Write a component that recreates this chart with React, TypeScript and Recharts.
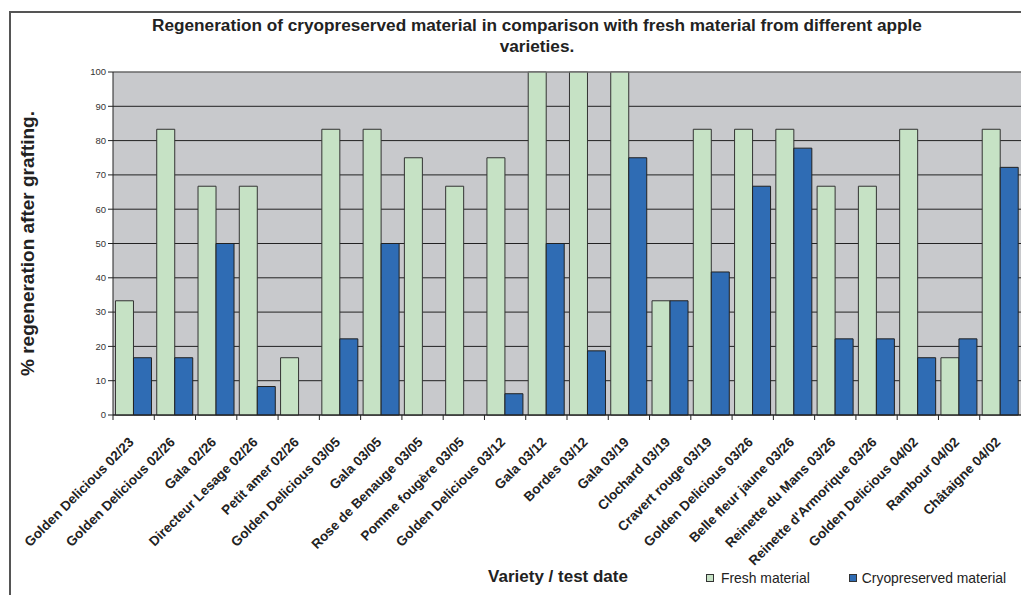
import React from "react";
import { BarChart, Bar, XAxis, YAxis, CartesianGrid, ReferenceLine } from "recharts";

const categories = [
  "Golden Delicious 02/23",
  "Golden Delicious 02/26",
  "Gala 02/26",
  "Directeur Lesage 02/26",
  "Petit amer 02/26",
  "Golden Delicious 03/05",
  "Gala 03/05",
  "Rose de Benauge 03/05",
  "Pomme fougère 03/05",
  "Golden Delicious 03/12",
  "Gala 03/12",
  "Bordes 03/12",
  "Gala 03/19",
  "Clochard 03/19",
  "Cravert rouge 03/19",
  "Golden Delicious 03/26",
  "Belle fleur jaune 03/26",
  "Reinette du Mans 03/26",
  "Reinette d'Armorique 03/26",
  "Golden Delicious 04/02",
  "Rambour 04/02",
  "Châtaigne 04/02",
];

const fresh = [33.3, 83.3, 66.7, 66.7, 16.7, 83.3, 83.3, 75, 66.7, 75, 100, 100, 100, 33.3, 83.3, 83.3, 83.3, 66.7, 66.7, 83.3, 16.7, 83.3];
const cryo = [16.7, 16.7, 50, 8.3, 0, 22.2, 50, 0, 0, 6.2, 50, 18.7, 75, 33.3, 41.7, 66.7, 77.8, 22.2, 22.2, 16.7, 22.2, 72.2];

const yTicks = [0, 10, 20, 30, 40, 50, 60, 70, 80, 90, 100];

const data = categories.map((c, i) => ({ name: c, fresh: fresh[i], cryo: cryo[i] }));

const FONT = "'Liberation Sans', Arial, Helvetica, sans-serif";
const GREEN = "#C6E2C5";
const BLUE = "#2F6CB4";

const XTick = (props: any) => {
  const { x, y, payload } = props;
  const off = payload && payload.offset ? payload.offset : 20.6;
  return (
    <g>
      <line x1={x - off} y1={y - 8} x2={x - off} y2={y - 3} stroke="#222" strokeWidth={1} />
      <text
        transform={`translate(${x + 1},${y + 20}) rotate(-45)`}
        textAnchor="end"
        fontFamily={FONT}
        fontWeight="bold"
        fontSize={13.5}
        fill="#222"
      >
        {payload.value}
      </text>
    </g>
  );
};

export default function App() {
  return (
    <div style={{ position: "absolute", left: 0, top: 0, width: 1021, height: 595, background: "#fff", overflow: "hidden" }}>
      <div style={{ position: "absolute", left: 9, top: 11, width: 1100, height: 700, borderTop: "2px solid #555", borderLeft: "2px solid #555" }} />
      <div
        style={{
          position: "absolute",
          left: 80,
          top: 15,
          width: 914,
          textAlign: "center",
          fontFamily: FONT,
          fontWeight: "bold",
          fontSize: 17.2,
          lineHeight: "21px",
          color: "#222",
        }}
      >
        Regeneration of cryopreserved material in comparison with fresh material from different apple
        <br />
        varieties.
      </div>
      <div style={{ position: "absolute", left: 0, top: 0 }}>
        <BarChart
          width={1021}
          height={595}
          data={data}
          margin={{ top: 72, right: 0, bottom: 0, left: 0 }}
          barCategoryGap="6%"
          barGap={0}
        >
          <CartesianGrid vertical={false} stroke="#222" fill="#C8C9CC" />
          <ReferenceLine y={100} stroke="#8a8a8a" />
          <XAxis
            dataKey="name"
            interval={0}
            height={180}
            tickLine={false}
            axisLine={{ stroke: "#222" }}
            tick={<XTick />}
          />
          <YAxis
            width={113}
            domain={[0, 100]}
            ticks={yTicks}
            interval={0}
            tickLine={{ stroke: "#222" }}
            tickSize={5}
            axisLine={{ stroke: "#222" }}
            tick={{ fontFamily: FONT, fontSize: 9.5, fill: "#333" }}
            label={{
              value: "% regeneration after grafting.",
              angle: -90,
              position: "insideLeft",
              offset: 27,
              style: { fontFamily: FONT, fontWeight: "bold", fontSize: 19, fill: "#222", textAnchor: "middle" },
            }}
          />
          <Bar dataKey="fresh" name="Fresh material" fill={GREEN} stroke="#333" strokeWidth={1} isAnimationActive={false} />
          <Bar dataKey="cryo" name="Cryopreserved material" fill={BLUE} stroke="#222" strokeWidth={1} isAnimationActive={false} />
        </BarChart>
      </div>
      <div
        style={{
          position: "absolute",
          left: 440,
          top: 567,
          width: 236,
          textAlign: "center",
          fontFamily: FONT,
          fontWeight: "bold",
          fontSize: 17,
          color: "#222",
        }}
      >
        Variety / test date
      </div>
      <div
        style={{
          position: "absolute",
          left: 706,
          top: 570,
          display: "flex",
          alignItems: "center",
          fontFamily: FONT,
          fontSize: 13.9,
          color: "#222",
          whiteSpace: "nowrap",
        }}
      >
        <span style={{ display: "inline-block", width: 6, height: 6, background: GREEN, border: "1px solid #333", marginRight: 7 }} />
        <span style={{ marginRight: 39 }}>Fresh material</span>
        <span style={{ display: "inline-block", width: 6, height: 6, background: BLUE, border: "1px solid #333", marginRight: 5 }} />
        <span>Cryopreserved material</span>
      </div>
    </div>
  );
}
